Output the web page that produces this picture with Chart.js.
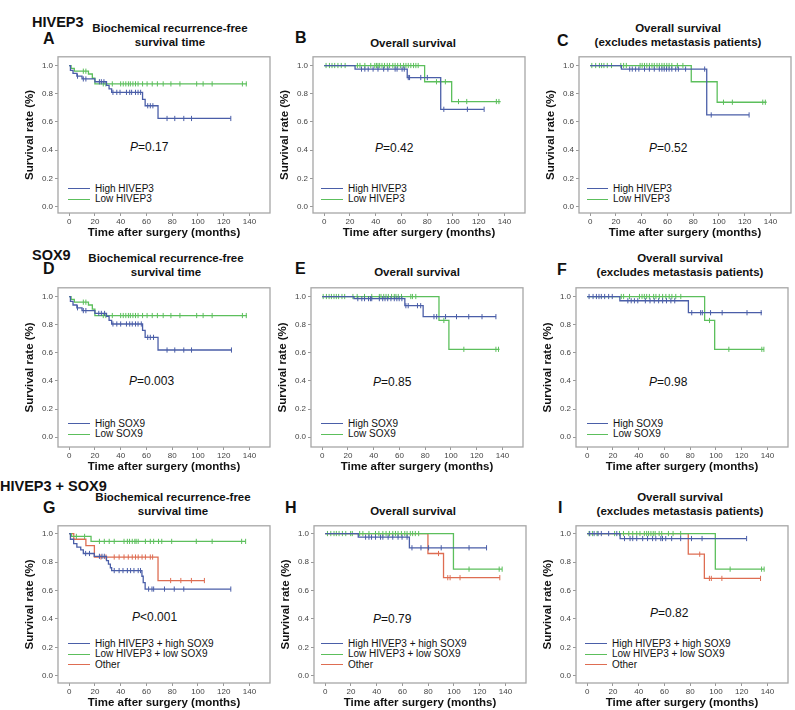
<!DOCTYPE html>
<html>
<head>
<meta charset="utf-8">
<script src="https://cdn.jsdelivr.net/npm/chart.js@4.4.1/dist/chart.umd.min.js"></script>
<style>
  body { margin: 0; width: 795px; height: 710px; background: #fff; position: relative; overflow: hidden;
         font-family: 'Liberation Sans', Arial, sans-serif; color: #111; }
  .abs { position: absolute; white-space: nowrap; }
  .group { font-weight: bold; font-size: 14.5px; line-height: 14.5px; }
  .letter { font-weight: bold; font-size: 16px; line-height: 16px; }
  .title { font-weight: bold; font-size: 11.5px; line-height: 14.5px; text-align: center; width: 260px; }
  .pval { font-size: 12px; line-height: 12px; }
  .leg { font-size: 10px; line-height: 10px; }
  .sw { position: absolute; height: 0; border-top: 1.4px solid; }
  canvas { position: absolute; }
</style>
</head>
<body>
<script>
// ---- data: Kaplan-Meier steps (time, survival) and censored times ----
const xTicks = [0, 20, 40, 60, 80, 100, 120, 140];
const yTicks = [0, 0.2, 0.4, 0.6, 0.8, 1.0];

// A: BCR-free, HIVEP3
const A_high_t = [0, 1, 3, 6, 10, 20, 29, 31, 33, 57, 59, 69, 125.5];
const A_high_s = [1, 0.965, 0.945, 0.925, 0.905, 0.885, 0.86, 0.835, 0.81, 0.76, 0.715, 0.625, 0.625];
const A_high_c = [6.5, 11, 13, 23.5, 25, 27, 34, 37, 39.5, 44.5, 47, 48.5, 51.5, 53.5, 55.5, 61, 63, 65, 76, 82, 89, 95, 125.5];
const A_low_t = [0, 1.5, 4, 15, 18, 20, 138];
const A_low_s = [1, 0.98, 0.96, 0.94, 0.91, 0.87, 0.87];
const A_low_c = [11, 13, 26.5, 28.5, 33.5, 40, 42, 44, 46, 47.5, 49.5, 51.5, 53.5, 57, 60.5, 64.5, 68.5, 73, 79, 86, 99, 104, 111, 134.5, 137.5];

// B: OS, HIVEP3
const B_high_t = [0, 24, 64.5, 90.5, 124];
const B_high_s = [1, 0.975, 0.915, 0.69, 0.69];
const B_high_c = [29, 31.6, 34.2, 38, 41.8, 46.2, 49.5, 55.1, 56.6, 60.5, 62.2, 65.3, 66.3, 75, 80.1, 92.9, 111.2, 124.2];
const B_low_t = [0, 78, 99, 137];
const B_low_s = [1, 0.885, 0.745, 0.745];
const B_low_c = [1.5, 4.1, 6.1, 8.2, 10.7, 13.3, 16.3, 25.8, 27.8, 31.6, 36.2, 39.3, 40.6, 41.8, 43.1, 44.9, 46.9, 49, 50.8, 53.3, 55.1, 57.1, 59.2, 61.7, 63.5, 65.3, 67.3, 69.4, 71.2, 73, 87.2, 90.3, 94.1, 104.3, 110.7, 133.7, 135.7];

// C: OS excl. metastasis, HIVEP3
const C_high_t = [0, 24.3, 90.5, 123.4];
const C_high_s = [1, 0.975, 0.65, 0.65];
const C_high_c = [30.7, 32.7, 35.3, 37.8, 42.2, 46, 49.8, 53.7, 55.7, 57.5, 59.3, 61.3, 63.4, 66.4, 68.5, 74.1, 88.9, 94, 123.4];
const C_low_t = [0, 78.5, 98.6, 137];
const C_low_s = [1, 0.885, 0.74, 0.74];
const C_low_c = [1.3, 4.3, 7.2, 8.9, 10.7, 13.3, 16.6, 23.8, 26, 28.1, 38.8, 40.4, 42.2, 44, 46, 48, 49.8, 51.9, 53.7, 55.7, 57.5, 59.5, 61.3, 63.4, 67.7, 72, 103.5, 110.4, 134, 136];

// D: BCR-free, SOX9
const D_high_t = [0, 1, 3, 6, 10, 20, 29, 31, 33, 57, 59, 69, 126];
const D_high_s = [1, 0.965, 0.94, 0.92, 0.9, 0.88, 0.86, 0.83, 0.805, 0.76, 0.71, 0.62, 0.62];
const D_high_c = [6.5, 11, 13, 23, 25, 27.5, 34, 37, 40, 44.5, 47, 49, 51.5, 53.5, 56, 61, 63, 65.5, 76, 82, 89, 95, 126];
const D_low_t = [0, 1.5, 4, 15, 18, 20, 138];
const D_low_s = [1, 0.98, 0.96, 0.94, 0.91, 0.865, 0.865];
const D_low_c = [11, 13, 26.5, 28.5, 33.5, 40, 42, 44, 46, 47.5, 49.5, 51.5, 53.5, 57, 60.5, 64.5, 68.5, 73, 79, 86, 99, 104, 111, 134.5, 137.5];

// E: OS, SOX9
const E_high_t = [0, 24.7, 64.2, 78.4, 135];
const E_high_s = [1, 0.985, 0.935, 0.857, 0.857];
const E_high_c = [27.7, 30.8, 32.9, 36, 37.5, 38.5, 44.4, 47, 48.8, 50.9, 53.4, 56, 58, 59.8, 61.9, 65, 66.8, 74, 76.5, 86.8, 88.9, 95.8, 104.3, 113.8, 124.1, 134.9];
const E_low_t = [0, 90.7, 98.4, 137.7];
const E_low_s = [1, 0.83, 0.625, 0.625];
const E_low_c = [0.8, 3.3, 5.4, 7.2, 9.2, 11, 12.8, 15.4, 17.5, 23.9, 27.2, 32.9, 38.5, 44.4, 45.7, 47.8, 49.6, 51.4, 53.9, 56, 57.3, 59.1, 61.6, 68.8, 70.1, 72.7, 94.5, 110, 134.9, 136.9];

// F: OS excl. metastasis, SOX9
const F_high_t = [0, 25.4, 78.6, 135.7];
const F_high_s = [1, 0.97, 0.885, 0.885];
const F_high_c = [1.5, 4.6, 7.2, 9.2, 11, 13.6, 16.7, 19.5, 31.6, 34.2, 36.7, 39.3, 45.2, 48.8, 52.1, 55.5, 58.6, 61.6, 65, 68, 81.2, 88.1, 89.4, 95.8, 104.8, 124.1, 135.1];
const F_low_t = [0, 91.2, 99, 137.2];
const F_low_s = [1, 0.83, 0.625, 0.625];
const F_low_c = [26.5, 28.3, 32.9, 40.6, 42.6, 44.4, 46.2, 48.3, 51.6, 53.4, 56, 58.6, 61.1, 63.7, 65.8, 68.8, 72.7, 95, 110, 135.6, 137.2];

// G: BCR-free, combined
const G_high_t = [0, 1, 3.5, 6, 9, 11, 19.5, 29, 30.5, 32, 33, 56.5, 57.5, 59, 125.5];
const G_high_s = [1, 0.96, 0.93, 0.905, 0.885, 0.86, 0.84, 0.81, 0.785, 0.76, 0.74, 0.7, 0.655, 0.61, 0.61];
const G_high_c = [12.8, 15.8, 23.5, 25.5, 27.3, 35, 38.8, 41.8, 45.2, 47.7, 50.3, 53.6, 55.4, 61.7, 64.3, 65.6, 74, 81.6, 89, 125.5];
const G_low_t = [0, 1.8, 17, 137];
const G_low_s = [1, 0.98, 0.945, 0.945];
const G_low_c = [5.6, 12, 23.5, 27.3, 31.1, 35, 42.6, 45.2, 46.9, 49, 51, 52, 53.6, 59.2, 63, 65.6, 69.4, 71.9, 79.6, 98.7, 111, 133.9, 137];
const G_oth_t = [0, 3.6, 13, 19.6, 69, 105];
const G_oth_s = [1, 0.96, 0.915, 0.835, 0.67, 0.67];
const G_oth_c = [24.7, 28.6, 35, 38.8, 42.6, 45.9, 49, 51.5, 53.6, 56.6, 59.2, 63, 64.8, 78.8, 86.7, 94.9, 105];

// H: OS, combined
const H_high_t = [0, 25.7, 65.4, 125.3];
const H_high_s = [1, 0.975, 0.9, 0.9];
const H_high_c = [31.4, 34, 36, 39.1, 43, 44.8, 48.9, 52.5, 56.6, 59.7, 63.6, 67.4, 74.4, 80.3, 90.1, 111.7, 125.3];
const H_low_t = [0, 99.6, 137.4];
const H_low_s = [1, 0.75, 0.75];
const H_low_c = [1.8, 4.4, 6.9, 8.7, 10.8, 13.4, 16, 19.8, 21.1, 26.8, 29.3, 34, 39.1, 41.7, 44.8, 47.3, 49.9, 52.5, 54.6, 56.6, 59.2, 61.8, 63.6, 66.1, 67.9, 70, 72.6, 111.7, 135.1, 137.4];
const H_oth_t = [0, 79.8, 91.9, 135.6];
const H_oth_s = [1, 0.86, 0.69, 0.69];
const H_oth_c = [88, 95.2, 97, 104.7, 135.6];

// I: OS excl. metastasis, combined
const I_high_t = [0, 25.6, 123.8];
const I_high_s = [1, 0.965, 0.965];
const I_high_c = [2, 5.4, 8.5, 11, 16.7, 23, 29, 33.3, 35.4, 38.5, 43.1, 46.9, 50.8, 53.3, 57.2, 58.5, 61, 65.6, 72.6, 81, 89.2, 123.8];
const I_low_t = [0, 99.5, 137.4];
const I_low_s = [1, 0.75, 0.75];
const I_low_c = [1.5, 4.1, 7.7, 21.3, 25.1, 28.2, 32.3, 35.4, 38.5, 41, 44.4, 46.2, 47.7, 49.5, 51.3, 52.8, 55.9, 57.9, 63.1, 66.7, 72.6, 111, 135.4, 137.4];
const I_oth_t = [0, 78.5, 91, 134.6];
const I_oth_s = [1, 0.855, 0.685, 0.685];
const I_oth_c = [87.4, 94.9, 96.4, 104.6, 134.6];

// ---- styling / layout ----
const BLUE = '#4a5ea8', GREEN = '#5cbf5c', RED = '#de6d52';
const T_BCR = ['Biochemical recurrence-free', 'survival time'];
const T_OS = ['Overall survival'];
const T_OSX = ['Overall survival', '(excludes metastasis patients)'];

// row geometry: box top/bottom and pixel rows of y=1.0 / y=0.0
const ROWS = [
  { top: 52, bottom: 213, p1: 61, p0: 206.5 },
  { top: 283, bottom: 447, p1: 292, p0: 437 },
  { top: 521, bottom: 683, p1: 529, p0: 675.7 }
];

const panels = [
  { L: 'A', row: 0, left: 58, title: T_BCR, tc: [170, 28], lp: [43, 38.5], p: ['=0.17', 130, 147], leg: [68, 95, 189],
    curves: [[A_high_t, A_high_s, A_high_c, BLUE, 'High HIVEP3'], [A_low_t, A_low_s, A_low_c, GREEN, 'Low HIVEP3']] },
  { L: 'B', row: 0, left: 313, title: T_OS, tc: [413, 43], lp: [295, 38], p: ['=0.42', 375, 148], leg: [321, 348, 189],
    curves: [[B_high_t, B_high_s, B_high_c, BLUE, 'High HIVEP3'], [B_low_t, B_low_s, B_low_c, GREEN, 'Low HIVEP3']] },
  { L: 'C', row: 0, left: 579, title: T_OSX, tc: [678, 28], lp: [557, 41], p: ['=0.52', 649, 148], leg: [587, 613, 189],
    curves: [[C_high_t, C_high_s, C_high_c, BLUE, 'High HIVEP3'], [C_low_t, C_low_s, C_low_c, GREEN, 'Low HIVEP3']] },
  { L: 'D', row: 1, left: 58, title: T_BCR, tc: [166, 258], lp: [43, 269], p: ['=0.003', 129, 381], leg: [68, 95, 424],
    curves: [[D_high_t, D_high_s, D_high_c, BLUE, 'High SOX9'], [D_low_t, D_low_s, D_low_c, GREEN, 'Low SOX9']] },
  { L: 'E', row: 1, left: 311, title: T_OS, tc: [417, 272], lp: [295, 268.5], p: ['=0.85', 373, 382], leg: [321, 348, 424],
    curves: [[E_high_t, E_high_s, E_high_c, BLUE, 'High SOX9'], [E_low_t, E_low_s, E_low_c, GREEN, 'Low SOX9']] },
  { L: 'F', row: 1, left: 576, title: T_OSX, tc: [680, 258], lp: [557, 269.5], p: ['=0.98', 649, 382], leg: [587, 613, 424],
    curves: [[F_high_t, F_high_s, F_high_c, BLUE, 'High SOX9'], [F_low_t, F_low_s, F_low_c, GREEN, 'Low SOX9']] },
  { L: 'G', row: 2, left: 58, title: T_BCR, tc: [173, 497], lp: [43, 508], p: ['<0.001', 132, 617], leg: [68, 95, 644],
    curves: [[G_high_t, G_high_s, G_high_c, BLUE, 'High HIVEP3 + high SOX9'], [G_low_t, G_low_s, G_low_c, GREEN, 'Low HIVEP3 + low SOX9'], [G_oth_t, G_oth_s, G_oth_c, RED, 'Other']] },
  { L: 'H', row: 2, left: 314, title: T_OS, tc: [413, 511], lp: [285, 508], p: ['=0.79', 373, 619], leg: [321, 348, 644],
    curves: [[H_high_t, H_high_s, H_high_c, BLUE, 'High HIVEP3 + high SOX9'], [H_low_t, H_low_s, H_low_c, GREEN, 'Low HIVEP3 + low SOX9'], [H_oth_t, H_oth_s, H_oth_c, RED, 'Other']] },
  { L: 'I', row: 2, left: 576, title: T_OSX, tc: [680, 497], lp: [558, 508], p: ['=0.82', 650, 613], leg: [585, 612, 644],
    curves: [[I_high_t, I_high_s, I_high_c, BLUE, 'High HIVEP3 + high SOX9'], [I_low_t, I_low_s, I_low_c, GREEN, 'Low HIVEP3 + low SOX9'], [I_oth_t, I_oth_s, I_oth_c, RED, 'Other']] }
];

const groups = [['HIVEP3', 32, 14.5], ['SOX9', 32, 247.5], ['HIVEP3 + SOX9', 0, 479]];

// ---- helpers ----
function addText(cls, text, x, y, html) {
  const d = document.createElement('div');
  d.className = 'abs ' + cls;
  if (html) d.innerHTML = text; else d.textContent = text;
  d.style.left = x + 'px';
  d.style.top = y + 'px';
  document.body.appendChild(d);
  return d;
}

function survAt(times, surv, t) {
  let s = surv[0];
  for (let i = 0; i < times.length; i++) if (times[i] <= t) s = surv[i];
  return s;
}

const framePlugin = {
  id: 'frame',
  beforeDatasetsDraw(chart) {
    const { ctx, chartArea: a } = chart;
    ctx.save();
    ctx.strokeStyle = '#a6a6a6';
    ctx.lineWidth = 1.3;
    ctx.strokeRect(a.left, a.top, a.right - a.left, a.bottom - a.top);
    ctx.restore();
  }
};

const BOX_W = 215, Y_AXIS_W = 35, X_AXIS_H = 27, PAD = 2;
const X0_OFF = 11.3, X140_OFF = 194.2;

groups.forEach(g => addText('group', g[0], g[1], g[2]));

panels.forEach(p => {
  const r = ROWS[p.row];
  const boxH = r.bottom - r.top;
  const unit = r.p0 - r.p1;
  const yMax = 1 + (r.p1 - r.top) / unit;
  const yMin = -(r.bottom - r.p0) / unit;
  const pxPerMonth = (X140_OFF - X0_OFF) / 140;
  const xMin = -X0_OFF / pxPerMonth;
  const xMax = 140 + (BOX_W - X140_OFF) / pxPerMonth;

  // texts
  addText('letter', p.L, p.lp[0], p.lp[1] - 8);
  const t = addText('title', p.title.join('<br>'), p.tc[0] - 130, p.tc[1] - 7.25, true);
  addText('pval', '<i>P</i>' + p.p[0], p.p[1], p.p[2] - 6, true);
  p.curves.forEach((c, i) => {
    const y = p.leg[2] + i * 10.5;
    const sw = document.createElement('div');
    sw.className = 'sw';
    sw.style.left = p.leg[0] + 'px';
    sw.style.top = (y - 0.7) + 'px';
    sw.style.width = (p.leg[1] - p.leg[0] - 5) + 'px';
    sw.style.borderColor = c[3];
    document.body.appendChild(sw);
    addText('leg', c[4], p.leg[1], y - 5.5);
  });

  // chart
  const canvas = document.createElement('canvas');
  const cw = BOX_W + Y_AXIS_W + PAD, ch = boxH + PAD + X_AXIS_H;
  canvas.width = cw; canvas.height = ch;
  canvas.style.width = cw + 'px'; canvas.style.height = ch + 'px';
  canvas.style.left = (p.left - Y_AXIS_W) + 'px';
  canvas.style.top = (r.top - PAD) + 'px';
  document.body.appendChild(canvas);

  const datasets = [];
  p.curves.forEach(c => {
    const [times, surv, cens, col, label] = c;
    datasets.push({
      label: label,
      data: times.map((tm, i) => ({ x: tm, y: surv[i] })),
      showLine: true, stepped: 'before',
      borderColor: col, borderWidth: 1.3, pointRadius: 0, fill: false
    });
    datasets.push({
      label: label + ' censored',
      data: cens.map(tm => ({ x: tm, y: survAt(times, surv, tm) })),
      showLine: false, pointStyle: 'line', rotation: 90, pointRadius: 2.6,
      borderColor: col, backgroundColor: col, pointBorderWidth: 1
    });
  });

  new Chart(canvas, {
    type: 'scatter',
    data: { datasets },
    plugins: [framePlugin],
    options: {
      responsive: false,
      animation: false,
      events: [],
      layout: { padding: { left: 0, top: PAD, right: PAD, bottom: 0 } },
      plugins: { legend: { display: false }, tooltip: { enabled: false }, title: { display: false } },
      scales: {
        x: {
          type: 'linear', min: xMin, max: xMax,
          afterBuildTicks: s => { s.ticks = xTicks.map(v => ({ value: v })); },
          afterFit: s => { s.height = X_AXIS_H; },
          ticks: { font: { size: 8, family: "'Liberation Sans', Arial, sans-serif" }, color: '#444', padding: 1, maxRotation: 0, autoSkip: false },
          grid: { display: true, drawOnChartArea: false, drawTicks: true, tickLength: 3, color: '#999' },
          border: { display: false },
          title: { display: true, text: 'Time after surgery (months)', color: '#111',
                   font: { size: 11.5, weight: 'bold', family: "'Liberation Sans', Arial, sans-serif" }, padding: { top: 0, bottom: 0 } }
        },
        y: {
          type: 'linear', min: yMin, max: yMax,
          afterBuildTicks: s => { s.ticks = yTicks.map(v => ({ value: v })); },
          afterFit: s => { s.width = Y_AXIS_W; },
          ticks: { font: { size: 8, family: "'Liberation Sans', Arial, sans-serif" }, color: '#444', padding: 2,
                   callback: v => v.toFixed(1) },
          grid: { display: true, drawOnChartArea: false, drawTicks: true, tickLength: 3, color: '#999' },
          border: { display: false },
          title: { display: true, text: 'Survival rate (%)', color: '#111',
                   font: { size: 11.5, weight: 'bold', family: "'Liberation Sans', Arial, sans-serif" }, padding: { top: 0, bottom: 0 } }
        }
      }
    }
  });
});
</script>
</body>
</html>
